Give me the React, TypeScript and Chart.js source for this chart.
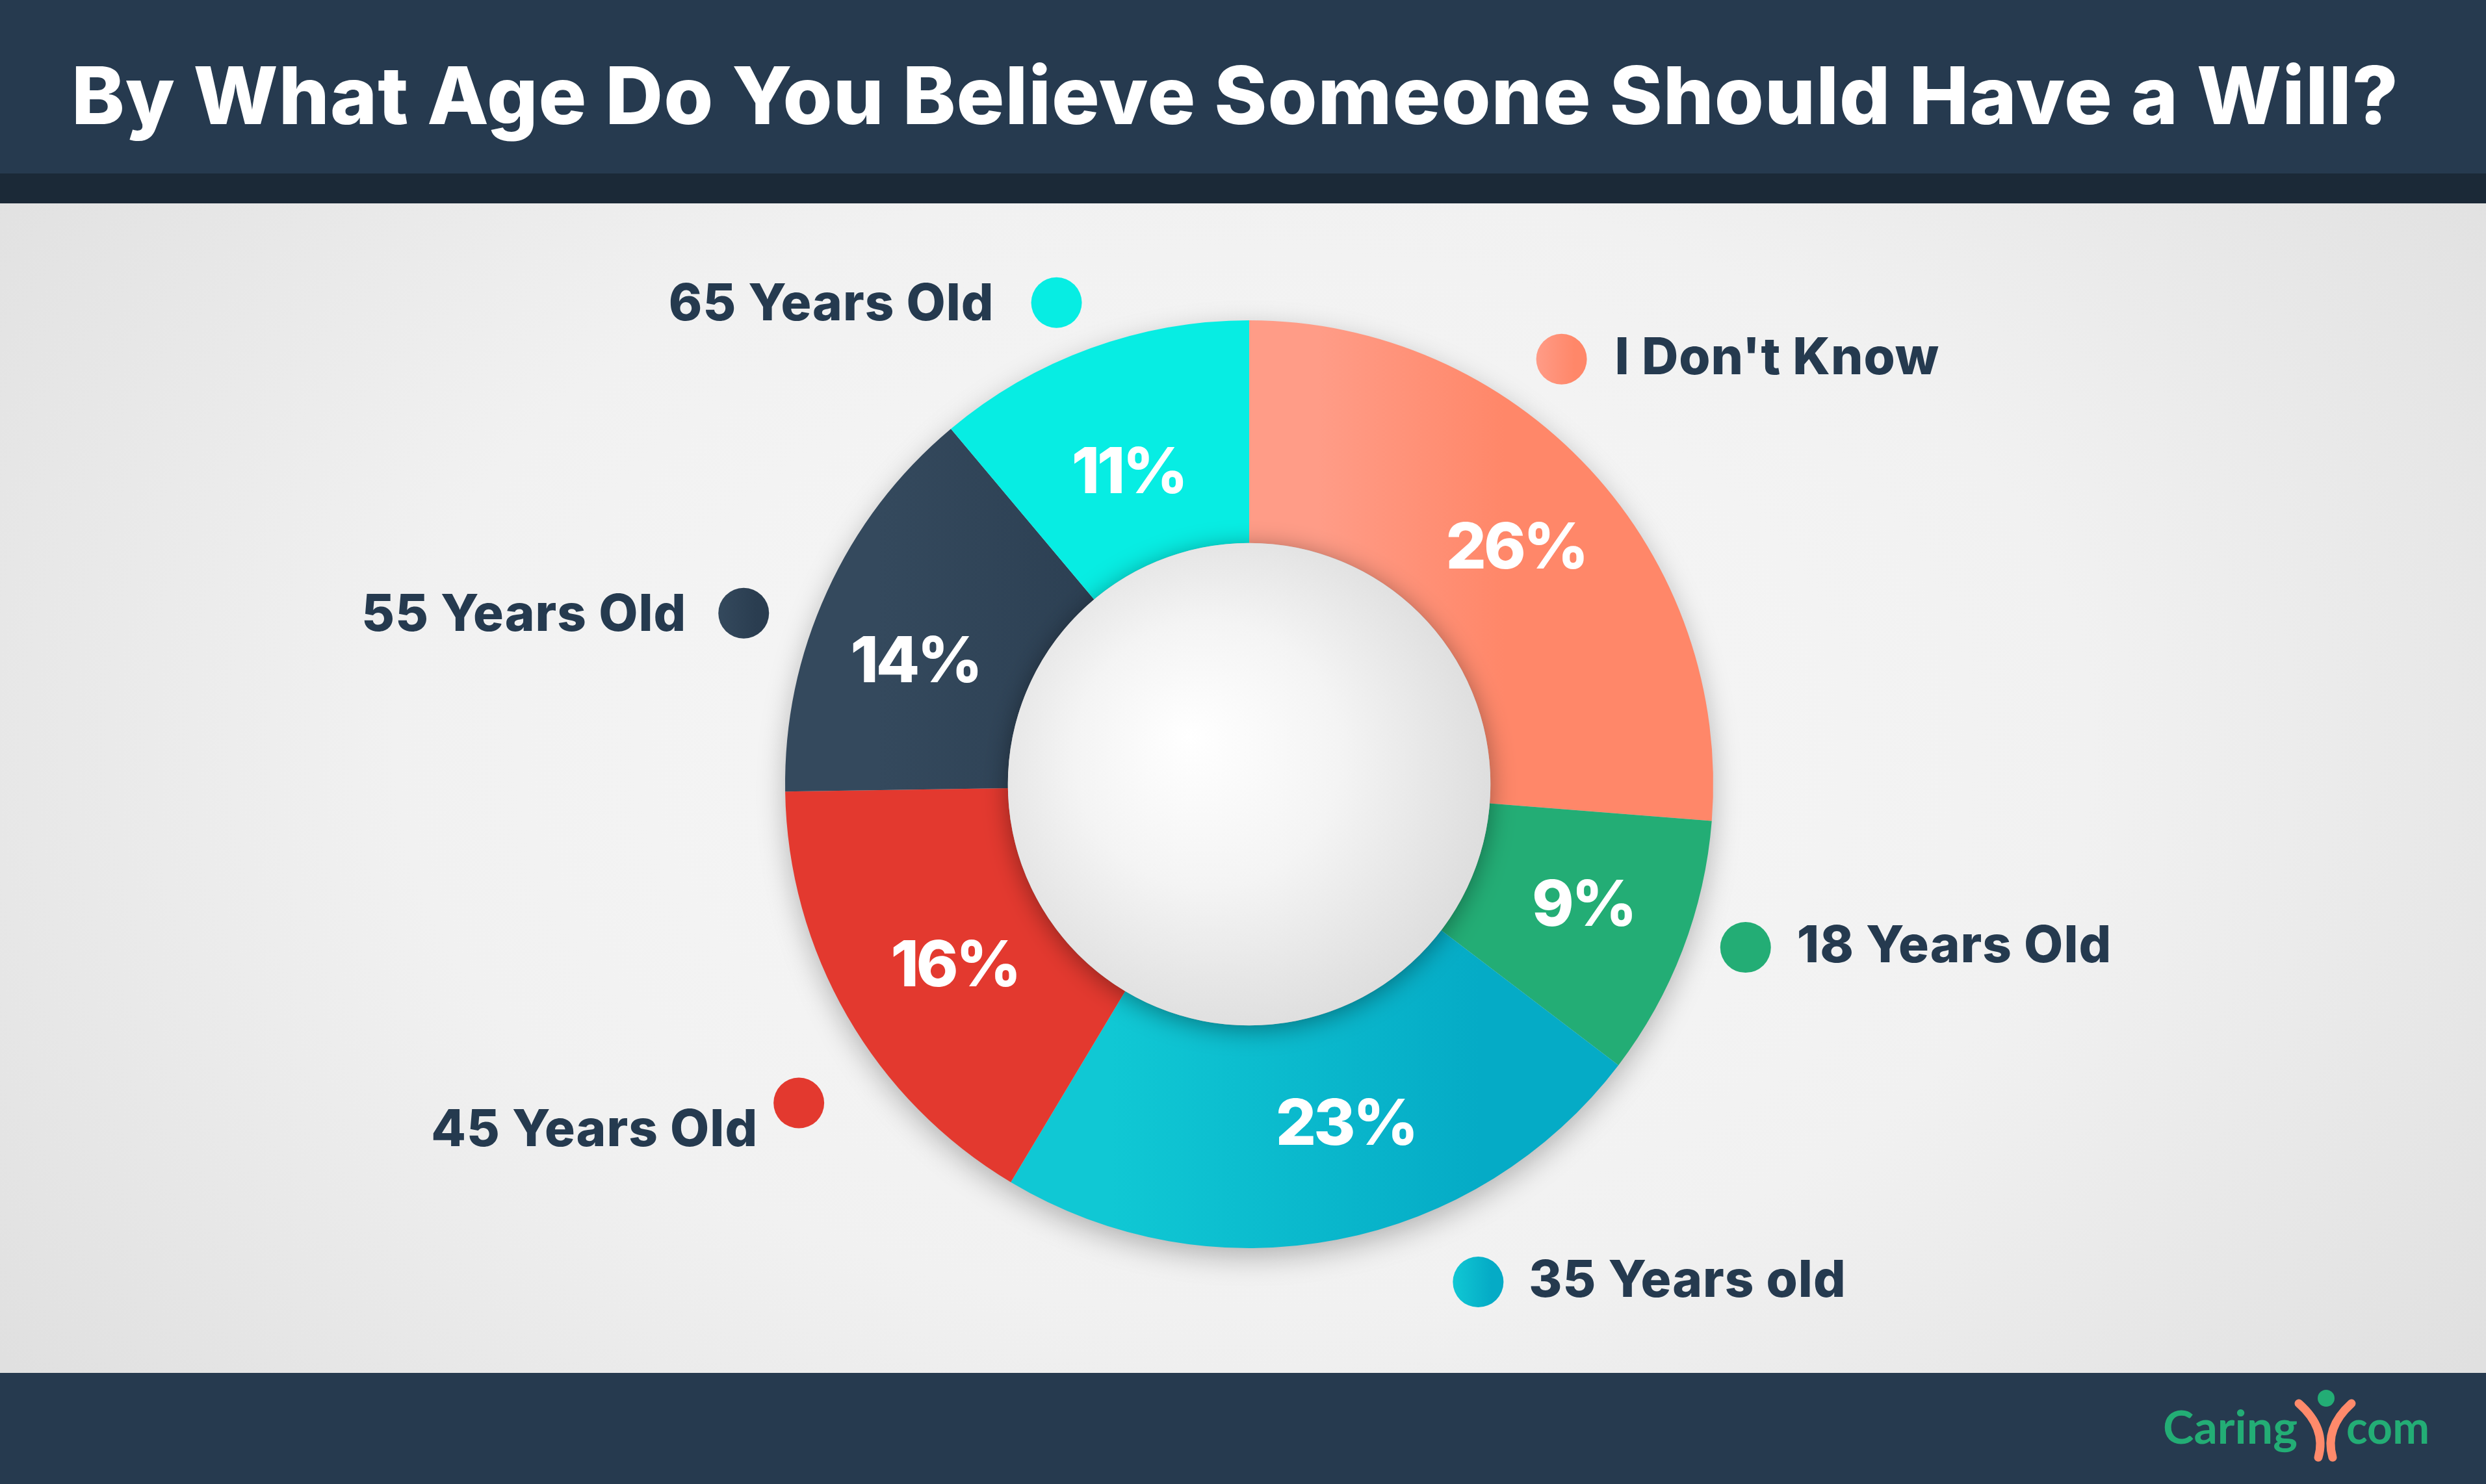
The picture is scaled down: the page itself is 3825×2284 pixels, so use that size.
import React, { useEffect, useRef } from "react";
import { Chart, registerables } from "chart.js";

Chart.register(...registerables);

const W = 3825;
const H = 2284;

// ---- data ----
const titleText = "By What Age Do You Believe Someone Should Have a Will?";
const categories = ["I Don't Know", "18 Years Old", "35 Years old", "45 Years Old", "55 Years Old", "65 Years Old"];
const values = [26, 9, 23, 16, 14, 11];
const valueLabels = ["26%", "9%", "23%", "16%", "14%", "11%"];

// ---- styles ----
const colorStart = ["#ff9c87", "#23ad75", "#10c8d4", "#e3392f", "#34495d", "#07ede3"];
const colorEnd = ["#ff8769", "#23ad75", "#05abc6", "#e3392f", "#2a3d50", "#07ede3"];
const gradSpan = [
  [0.15, 0.55],
  [0, 1],
  [-0.3, 0.5],
  [0, 1],
  [-0.8, -0.2],
  [0, 1],
];
// nudges of the percentage labels from the arc centre (px)
const labelNudgeX = [12, 7, 46, 17, -20, 0];
const labelNudgeY = [7, -5, -7, 10, 39, 32];
// callout layout (angle clockwise from 12 o'clock, distance as share of outer radius)
const calloutAngle = [36.3, 108.2, 155.3, 234.7, 288.7, 338.2];
const calloutDist = [1.137, 1.126, 1.181, 1.189, 1.15, 1.118];
const calloutSide = ["right", "right", "right", "left", "left", "left"];
const calloutGap = [82, 79, 78, 63, 88, 96];
const calloutBaseline = [23, 23, 23, 66, 27, 27];

const DARK = "#253a4f";
const FONT = "Inter, 'Open Sans', sans-serif";

function sliceGradient(ctx: CanvasRenderingContext2D, i: number, cx: number, r: number) {
  const g = ctx.createLinearGradient(cx + gradSpan[i][0] * r, 0, cx + gradSpan[i][1] * r, 0);
  g.addColorStop(0, colorStart[i]);
  g.addColorStop(1, colorEnd[i]);
  return g;
}

const donutDecor = {
  id: "donutDecor",
  beforeDatasetsDraw(chart: any) {
    const arc = chart.getDatasetMeta(0).data[0];
    if (!arc) return;
    const { x, y, outerRadius } = arc.getProps(["x", "y", "outerRadius"], true);
    const ctx = chart.ctx;
    ctx.save();
    ctx.beginPath();
    ctx.arc(x, y, outerRadius - 2, 0, Math.PI * 2);
    ctx.fillStyle = "#d8d8d8";
    ctx.shadowColor = "rgba(0,0,0,0.28)";
    ctx.shadowBlur = 45;
    ctx.shadowOffsetY = 14;
    ctx.fill();
    ctx.restore();
  },
  afterDatasetsDraw(chart: any) {
    const meta = chart.getDatasetMeta(0);
    const arc0 = meta.data[0];
    if (!arc0) return;
    const { x, y, innerRadius } = arc0.getProps(["x", "y", "innerRadius"], true);
    const ctx = chart.ctx;
    // raised inner disc
    ctx.save();
    const g = ctx.createRadialGradient(x - innerRadius * 0.25, y - innerRadius * 0.2, 0, x - innerRadius * 0.1, y - innerRadius * 0.05, innerRadius * 1.1);
    g.addColorStop(0, "#ffffff");
    g.addColorStop(0.5, "#f4f4f4");
    g.addColorStop(1, "#dedede");
    ctx.beginPath();
    ctx.arc(x, y, innerRadius, 0, Math.PI * 2);
    ctx.fillStyle = g;
    ctx.shadowColor = "rgba(0,0,0,0.38)";
    ctx.shadowBlur = 38;
    ctx.shadowOffsetY = 6;
    ctx.fill();
    ctx.restore();
    // percentage labels
    ctx.save();
    ctx.fillStyle = "#ffffff";
    ctx.font = `800 98px ${FONT}`;
    (ctx as any).letterSpacing = "-4px";
    ctx.textAlign = "center";
    ctx.textBaseline = "middle";
    meta.data.forEach((el: any, i: number) => {
      const p = el.getCenterPoint();
      ctx.fillText(valueLabels[i], p.x + labelNudgeX[i], p.y + labelNudgeY[i]);
    });
    ctx.restore();
  },
  afterDraw(chart: any) {
    const meta = chart.getDatasetMeta(0);
    const ctx = chart.ctx;
    ctx.save();
    ctx.font = `800 78px ${FONT}`;
    (ctx as any).letterSpacing = "1px";
    ctx.textBaseline = "alphabetic";
    meta.data.forEach((el: any, i: number) => {
      const { x, y, outerRadius } = el.getProps(["x", "y", "outerRadius"], true);
      const a = (calloutAngle[i] * Math.PI) / 180;
      const d = outerRadius * calloutDist[i];
      const dx = x + d * Math.sin(a);
      const dy = y - d * Math.cos(a);
      const g = ctx.createLinearGradient(dx - 39, 0, dx + 20, 0);
      g.addColorStop(0, colorStart[i]);
      g.addColorStop(1, colorEnd[i]);
      ctx.beginPath();
      ctx.arc(dx, dy, 39, 0, Math.PI * 2);
      ctx.fillStyle = g;
      ctx.fill();
      ctx.fillStyle = DARK;
      if (calloutSide[i] === "right") {
        ctx.textAlign = "left";
        ctx.fillText(categories[i], dx + calloutGap[i], dy + calloutBaseline[i]);
      } else {
        ctx.textAlign = "right";
        ctx.fillText(categories[i], dx - calloutGap[i], dy + calloutBaseline[i]);
      }
    });
    ctx.restore();
  },
};

export default function App() {
  const ref = useRef<HTMLCanvasElement>(null);
  useEffect(() => {
    document.body.style.margin = "0";
    const canvas = ref.current;
    if (!canvas) return;
    const chart = new Chart(canvas, {
      type: "doughnut",
      data: {
        labels: categories,
        datasets: [
          {
            data: values,
            borderWidth: 0,
            backgroundColor: (c: any) => {
              const ch = c.chart;
              const area = ch.chartArea;
              const i = c.dataIndex ?? 0;
              if (!area) return colorEnd[i];
              const cx = (area.left + area.right) / 2;
              const r = Math.min(area.right - area.left, area.bottom - area.top) / 2;
              return sliceGradient(ch.ctx, i, cx, r);
            },
          },
        ],
      },
      options: {
        responsive: false,
        maintainAspectRatio: false,
        animation: false,
        devicePixelRatio: 1,
        cutout: "52%",
        layout: { padding: { left: 1208, right: 1189, top: 493, bottom: 363 } },
        plugins: {
          legend: { display: false },
          tooltip: { enabled: false },
        },
        events: [],
      },
      plugins: [donutDecor],
    } as any);
    return () => chart.destroy();
  }, []);

  return (
    <div
      style={{
        position: "relative",
        width: W,
        height: H,
        overflow: "hidden",
        fontFamily: FONT,
        background:
          "radial-gradient(ellipse 62% 70% at 50% 50%, #f8f8f8 0%, #f1f1f1 55%, #e0e0e0 100%)",
      }}
    >
      <div style={{ position: "absolute", left: 0, top: 0, width: W, height: 267, background: "#263a4f" }} />
      <div style={{ position: "absolute", left: 0, top: 267, width: W, height: 46, background: "#1b2937" }} />
      <div style={{ position: "absolute", left: 0, top: 2113, width: W, height: H - 2113, background: "#263a4f" }} />
      <canvas ref={ref} width={W} height={H} style={{ position: "absolute", left: 0, top: 0, width: W, height: H }} />
      <div
        style={{
          position: "absolute",
          left: 0,
          top: 0,
          width: W - 24,
          height: 292,
          display: "flex",
          alignItems: "center",
          justifyContent: "center",
          color: "#ffffff",
          fontSize: 123,
          fontWeight: 800,
          letterSpacing: "1px",
          lineHeight: 1,
          whiteSpace: "nowrap",
        }}
      >
        {titleText}
      </div>
      <svg
        width={W}
        height={H - 2113}
        viewBox={`0 2113 ${W} ${H - 2113}`}
        style={{ position: "absolute", left: 0, top: 2113 }}
      >
        <text x={3328} y={2222} fill="#23ad75" fontFamily="Lato, sans-serif" fontWeight={700} fontSize={70} textLength={207} lengthAdjust="spacingAndGlyphs">
          Caring
        </text>
        <text x={3610} y={2222} fill="#23ad75" fontFamily="Lato, sans-serif" fontWeight={700} fontSize={70} textLength={128} lengthAdjust="spacingAndGlyphs">
          com
        </text>
        <circle cx={3579} cy={2152} r={13} fill="#23ad75" />
        <path d="M3537 2160 Q3580 2198 3567 2243" stroke="#ff8a6b" strokeWidth={13} strokeLinecap="round" fill="none" />
        <path d="M3618 2160 Q3576 2198 3589 2243" stroke="#ff8a6b" strokeWidth={13} strokeLinecap="round" fill="none" />
      </svg>
    </div>
  );
}
